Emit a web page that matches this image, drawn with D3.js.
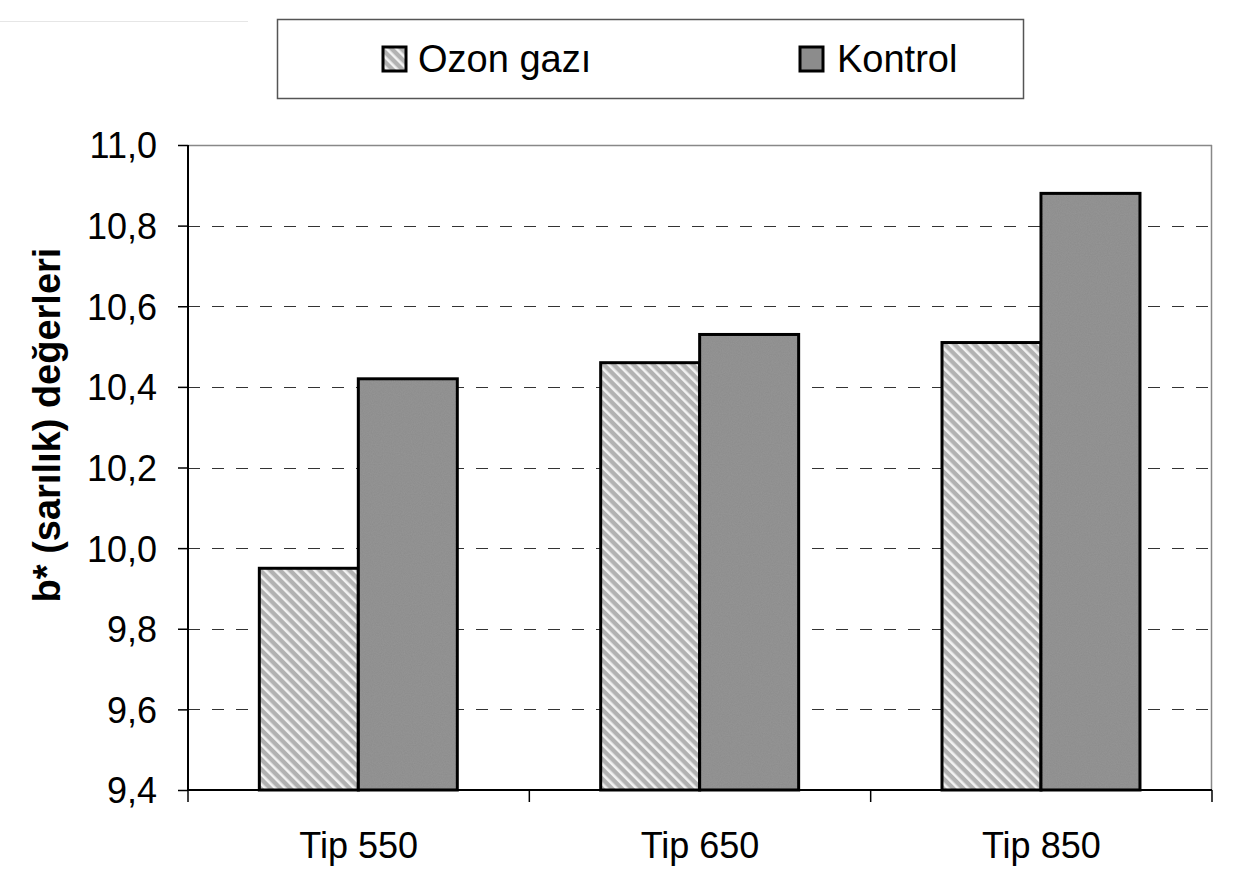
<!DOCTYPE html>
<html><head><meta charset="utf-8">
<script src="https://cdn.jsdelivr.net/npm/d3@7"></script>
<style>body{margin:0;background:#fff;} svg{display:block;font-family:Arial,"Liberation Sans",sans-serif;}</style>
</head><body>
<svg id="c" width="1242" height="882"></svg>
<script>
const categories = ["Tip 550", "Tip 650", "Tip 850"];
const seriesNames = ["Ozon gazı", "Kontrol"];
const ozonValues = [9.95, 10.46, 10.51];
const kontrolValues = [10.42, 10.53, 10.88];
const yTicks = [9.4, 9.6, 9.8, 10.0, 10.2, 10.4, 10.6, 10.8, 11.0];
const yTitle = "b* (sarılık) değerleri";

const svg = d3.select("#c");
const m = {left:188, right:1212, top:145, bottom:790};

const defs = svg.append("defs");
const pat = defs.append("pattern").attr("id","hatch").attr("patternUnits","userSpaceOnUse")
  .attr("width",7).attr("height",7).attr("patternTransform","rotate(-45)");
pat.append("rect").attr("width",7).attr("height",7).attr("fill","#b2b2b2");
pat.append("rect").attr("x",0).attr("width",2.6).attr("height",7).attr("fill","#f2f2f2");
const f = defs.append("filter").attr("id","noise").attr("x",0).attr("y",0).attr("width","100%").attr("height","100%");
f.append("feTurbulence").attr("type","fractalNoise").attr("baseFrequency",0.9).attr("numOctaves",2).attr("seed",3).attr("result","n");
f.append("feColorMatrix").attr("in","n").attr("type","matrix")
  .attr("values","0 0 0 0 0.55  0 0 0 0 0.55  0 0 0 0 0.55  0 0 0 0.5 0").attr("result","g");
const fills = ["url(#hatch)", "#8c8c8c"];

const y = d3.scaleLinear().domain([9.4, 11.0]).range([m.bottom, m.top]);
const x0 = d3.scaleBand().domain(categories).range([m.left, m.right]).padding(0);
const x1 = d3.scaleBand().domain(seriesNames).range([x0.bandwidth()*0.209, x0.bandwidth()*0.789]).padding(0);

// faint top-left line
svg.append("line").attr("x1",0).attr("x2",248).attr("y1",21.5).attr("y2",21.5).attr("stroke","#e6e6e6").attr("stroke-width",1);

// gridlines
svg.append("g").selectAll("line").data(yTicks.filter(t => t > 9.41 && t < 10.99)).join("line")
  .attr("x1", m.left).attr("x2", m.right)
  .attr("y1", d => Math.round(y(d))+0.5).attr("y2", d => Math.round(y(d))+0.5)
  .attr("stroke","#333").attr("stroke-width",1).attr("stroke-dasharray","12,12");

// plot border top and right
svg.append("line").attr("x1",m.left).attr("x2",m.right).attr("y1",m.top+0.5).attr("y2",m.top+0.5).attr("stroke","#888").attr("stroke-width",1.5);
svg.append("line").attr("x1",m.right-0.5).attr("x2",m.right-0.5).attr("y1",m.top).attr("y2",m.bottom).attr("stroke","#888").attr("stroke-width",1.5);

// bars
const data = categories.map((c,i) => ({cat:c, vals:[ozonValues[i], kontrolValues[i]]}));
const g = svg.append("g").selectAll("g").data(data).join("g")
  .attr("transform", d => `translate(${x0(d.cat)},0)`);
g.selectAll("rect.b").data(d => d.vals.map((v,j) => ({v, s:seriesNames[j], j}))).join("rect")
  .attr("class","b")
  .attr("x", d => x1(d.s)).attr("width", x1.bandwidth())
  .attr("y", d => y(d.v)).attr("height", d => y(9.4) - y(d.v))
  .attr("fill", d => fills[d.j]).attr("stroke","#000").attr("stroke-width",3);
g.selectAll("rect.n").data(d => d.vals.map((v,j) => ({v, s:seriesNames[j], j})).filter(d => d.j===1)).join("rect")
  .attr("class","n")
  .attr("x", d => x1(d.s)+2).attr("width", x1.bandwidth()-4)
  .attr("y", d => y(d.v)+2).attr("height", d => y(9.4) - y(d.v)-4)
  .attr("filter","url(#noise)").attr("opacity",0.35);

// y axis
const yAxis = d3.axisLeft(y).tickValues(yTicks).tickSize(10).tickPadding(21)
  .tickFormat(d => d3.format(".1f")(d).replace(".", ","));
const ya = svg.append("g").attr("transform",`translate(${m.left},0)`).call(yAxis);
ya.select(".domain").attr("stroke","#000").attr("stroke-width",2).attr("d",`M0,${m.top}V${m.bottom}`);
ya.selectAll(".tick line").attr("stroke","#000").attr("stroke-width",1.5);
ya.selectAll(".tick text").attr("font-size",36).attr("fill","#000").attr("dy","0.36em");

// x axis
const xAxis = d3.axisBottom(x0).tickSize(0).tickPadding(42);
const xa = svg.append("g").attr("transform",`translate(0,${m.bottom})`).call(xAxis);
xa.select(".domain").attr("stroke","#000").attr("stroke-width",2).attr("d",`M${m.left},0H${m.right}`);
xa.selectAll(".tick text").attr("font-size",36).attr("fill","#000").attr("dy","0.72em");
// category separator ticks
svg.append("g").selectAll("line").data(categories.slice(1).map(c => x0(c)).concat([m.left, m.right])).join("line")
  .attr("x1", d=>d).attr("x2", d=>d).attr("y1", m.bottom).attr("y2", m.bottom+12)
  .attr("stroke","#000").attr("stroke-width",1.5);

// y title
svg.append("text").attr("transform","translate(60,425) rotate(-90)")
  .attr("text-anchor","middle").attr("font-size",38).attr("font-weight","bold").text(yTitle);

// legend
svg.append("rect").attr("x",277.5).attr("y",19.5).attr("width",746).attr("height",79)
  .attr("fill","#fff").attr("stroke","#555").attr("stroke-width",1.5);
const legX = [383, 800];
const lg = svg.append("g").selectAll("g").data(seriesNames).join("g")
  .attr("transform",(d,i)=>`translate(${legX[i]},47)`);
lg.append("rect").attr("width",23).attr("height",24).attr("fill",(d,i)=>fills[i]).attr("stroke","#000").attr("stroke-width",3);
lg.append("text").attr("x",(d,i)=> i===0 ? 35 : 37).attr("y",12).attr("dy","0.35em").attr("font-size",38).text(d=>d);
</script>
</body></html>
